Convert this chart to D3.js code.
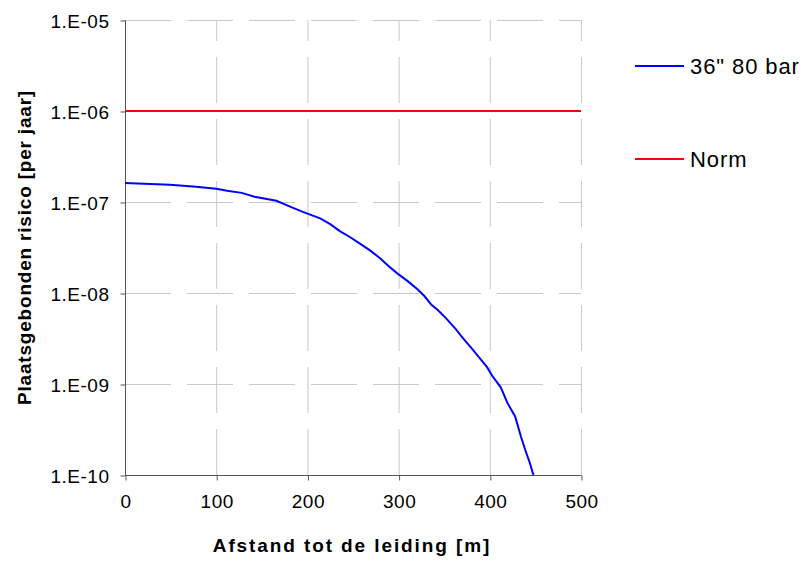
<!DOCTYPE html>
<html>
<head>
<meta charset="utf-8">
<script src="https://cdn.jsdelivr.net/npm/d3@7"></script>
<style>
  html, body { margin: 0; padding: 0; background: #fff; }
  svg { display: block; font-family: "Liberation Sans", Arial, sans-serif; }
</style>
</head>
<body>
<svg id="chart" width="805" height="563"></svg>
<script>
// Distance to the pipeline [m]
const distance = [0, 49, 78, 100, 112, 128, 142, 166, 181, 195, 214, 225, 236, 247, 258, 269, 280, 291, 300, 310, 321, 328.5, 336, 343, 352.6, 362, 371, 380.4, 389.6, 397, 402.6, 412, 419.3, 427.8, 434.1, 438.9, 444.1, 447.8];
// Location-specific risk for the 36" 80 bar pipeline [per year]
const risk = [1.62e-7, 1.55e-7, 1.47e-7, 1.40e-7, 1.33e-7, 1.26e-7, 1.14e-7, 1.03e-7, 8.9e-8, 7.8e-8, 6.6e-8, 5.7e-8, 4.75e-8, 4.1e-8, 3.47e-8, 2.92e-8, 2.40e-8, 1.90e-8, 1.60e-8, 1.35e-8, 1.09e-8, 9.2e-9, 7.4e-9, 6.5e-9, 5.2e-9, 4.08e-9, 3.16e-9, 2.45e-9, 1.89e-9, 1.53e-9, 1.23e-9, 9.2e-10, 6.2e-10, 4.4e-10, 2.65e-10, 1.88e-10, 1.34e-10, 1.0e-10];
// Norm level
const normDistance = [0, 500];
const normRisk = [1e-6, 1e-6];
const seriesNames = ['36" 80 bar', "Norm"];
const seriesColors = ["#0000ff", "#ff0000"];
const xTicks = [0, 100, 200, 300, 400, 500];
const yTicks = [1e-10, 1e-9, 1e-8, 1e-7, 1e-6, 1e-5];
const yTickLabels = ["1.E-10", "1.E-09", "1.E-08", "1.E-07", "1.E-06", "1.E-05"];

const svg = d3.select("#chart");
const plot = { left: 125, top: 20, right: 581, bottom: 475 };

const x = d3.scaleLinear().domain([0, 500]).range([plot.left, plot.right]);
const y = d3.scaleLog().domain([1e-10, 1e-5]).range([plot.bottom, plot.top]);

// Grid lines
const grid = svg.append("g").attr("stroke", "#c8c8c8").attr("stroke-width", 1)
  .attr("stroke-dasharray", "46,16").attr("fill", "none");
xTicks.slice(1).forEach(t => {
  grid.append("line").attr("x1", x(t) + 0.5).attr("x2", x(t) + 0.5)
    .attr("y1", plot.bottom).attr("y2", plot.top);
});
yTicks.slice(1).forEach(t => {
  grid.append("line").attr("x1", plot.left).attr("x2", plot.right)
    .attr("y1", Math.round(y(t)) + 0.5).attr("y2", Math.round(y(t)) + 0.5);
});

// Axes
const xAxis = d3.axisBottom(x).tickValues(xTicks).tickSize(5).tickPadding(14).tickFormat(d3.format("d"));
const yAxis = d3.axisLeft(y).tickValues(yTicks).tickSize(5).tickPadding(11)
  .tickFormat(d => yTickLabels[yTicks.indexOf(d)]);

const gx = svg.append("g").attr("transform", `translate(0.5,${plot.bottom + 0.5})`).call(xAxis);
const gy = svg.append("g").attr("transform", `translate(${plot.left + 0.5},0.5)`).call(yAxis);
[gx, gy].forEach(g => {
  g.select(".domain").attr("stroke", "#555").attr("stroke-width", 1);
  g.selectAll(".tick line").attr("stroke", "#555");
  g.selectAll(".tick text").attr("fill", "#000").style("font-size", "19px")
    .style("letter-spacing", "0.5px")
    .style("font-family", '"Liberation Sans", Arial, sans-serif');
});
gy.selectAll(".tick text").attr("dy", "0.36em");
gx.select(".domain").attr("d", `M${plot.left},0H${plot.right}`);
gy.select(".domain").attr("d", `M0,${plot.bottom}V${plot.top}`);

// Series
const line = d3.line().x(d => x(d[0])).y(d => y(d[1]));
svg.append("path")
  .datum(normDistance.map((d, i) => [d, normRisk[i]]))
  .attr("d", line).attr("fill", "none").attr("stroke", seriesColors[1]).attr("stroke-width", 2);
svg.append("path")
  .datum(distance.map((d, i) => [d, risk[i]]))
  .attr("d", line).attr("fill", "none").attr("stroke", seriesColors[0]).attr("stroke-width", 2);

// Axis titles
svg.append("text").attr("x", 352).attr("y", 552)
  .attr("text-anchor", "middle").style("font-size", "19px").style("font-weight", "bold")
  .style("letter-spacing", "1.9px")
  .text("Afstand tot de leiding [m]");
svg.append("text").attr("transform", `translate(31,${(plot.top + plot.bottom) / 2}) rotate(-90)`)
  .attr("text-anchor", "middle").style("font-size", "19px").style("font-weight", "bold")
  .style("letter-spacing", "0.8px")
  .text("Plaatsgebonden risico [per jaar]");

// Legend
const legendY = [66, 159];
seriesNames.forEach((name, i) => {
  svg.append("line").attr("x1", 635).attr("x2", 684).attr("y1", legendY[i]).attr("y2", legendY[i])
    .attr("stroke", seriesColors[i]).attr("stroke-width", 2);
  svg.append("text").attr("x", 690).attr("y", legendY[i]).attr("dy", "0.36em")
    .style("font-size", "22px").style("letter-spacing", "0.9px").text(name);
});
</script>
</body>
</html>
